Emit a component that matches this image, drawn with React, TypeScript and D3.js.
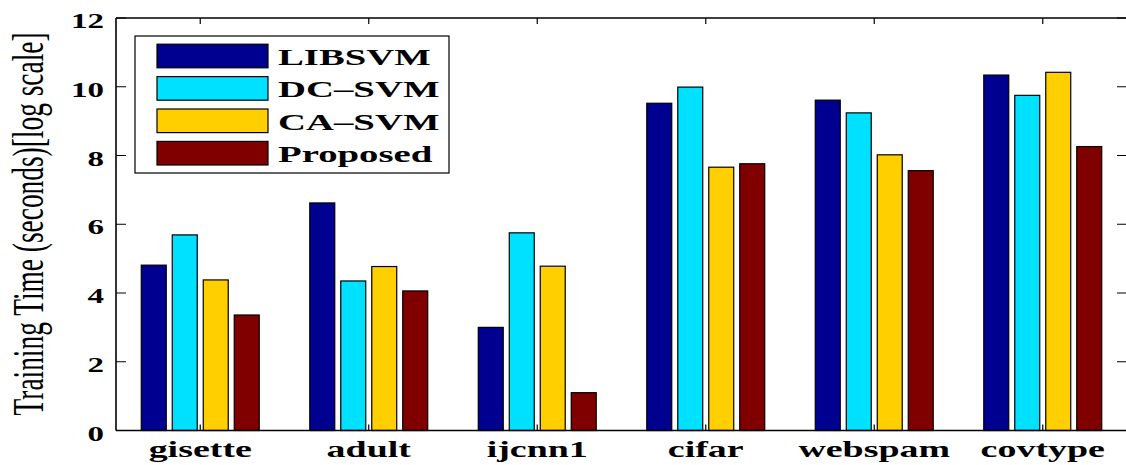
import React from "react";
import * as d3 from "d3";

const categories = ["gisette", "adult", "ijcnn1", "cifar", "webspam", "covtype"];
const seriesNames = ["LIBSVM", "DC–SVM", "CA–SVM", "Proposed"];
const libsvm = [4.81, 6.62, 3.0, 9.52, 9.61, 10.34];
const dcsvm = [5.69, 4.35, 5.75, 9.99, 9.24, 9.75];
const casvm = [4.38, 4.77, 4.78, 7.66, 8.02, 10.42];
const proposed = [3.36, 4.06, 1.1, 7.76, 7.56, 8.26];
const yTicks = [0, 2, 4, 6, 8, 10, 12];
const colors = ["#000090", "#00E0FF", "#FFCF00", "#800000"];

const W = 1126;
const H = 465;
const left = 116;
const right = 1127;
const top = 18;
const bottom = 430.5;
const SX = 1.65;
const FONT = "'Liberation Serif', 'Times New Roman', serif";

export default function App() {
  const series = [libsvm, dcsvm, casvm, proposed];
  const x0 = d3.scaleBand<string>().domain(categories).range([left, right]).padding(0);
  const bw = x0.bandwidth();
  const x1 = d3
    .scaleBand<string>()
    .domain(seriesNames)
    .range([0, bw * 0.7])
    .paddingInner(0.194)
    .paddingOuter(0);
  const y = d3.scaleLinear().domain([0, 12]).range([bottom, top]);

  const stretched = (x: number, yy: number, txt: string, size: number, anchor: string, bold = true, key?: string) => (
    <g key={key} transform={`translate(${x},${yy}) scale(${SX},1)`}>
      <text
        x={0}
        y={0}
        fontFamily={FONT}
        fontWeight={bold ? "bold" : "normal"}
        fontSize={size}
        textAnchor={anchor}
        fill="#000"
      >
        {txt}
      </text>
    </g>
  );

  const legX = 135, legY = 36, legW = 314, legH = 137;
  const rowCenters = [56, 88.4, 120.8, 153.2];

  return (
    <svg
      width={W}
      height={H}
      style={{ position: "absolute", left: 0, top: 0, background: "#fff" }}
    >
      <rect x={0} y={0} width={W} height={H} fill="#fff" />
      {/* ticks */}
      {yTicks.map((t) => (
        <g key={"yt" + t}>
          <line x1={left} x2={left + 10} y1={y(t)} y2={y(t)} stroke="#000" strokeWidth={1} />
          <line x1={right - 10} x2={right} y1={y(t)} y2={y(t)} stroke="#000" strokeWidth={1} />
        </g>
      ))}
      {categories.map((c) => {
        const cx = (x0(c) as number) + bw / 2;
        return (
          <g key={"xt" + c}>
            <line x1={cx} x2={cx} y1={top} y2={top + 6} stroke="#000" strokeWidth={1.2} />
            <line x1={cx} x2={cx} y1={bottom} y2={bottom - 6} stroke="#000" strokeWidth={1.2} />
          </g>
        );
      })}
      {/* bars */}
      {categories.map((c, ci) => (
        <g key={"g" + c} transform={`translate(${(x0(c) as number) + bw * 0.15},0)`}>
          {seriesNames.map((s, si) => (
            <rect
              key={s}
              x={x1(s) as number}
              y={y(series[si][ci])}
              width={x1.bandwidth()}
              height={y(0) - y(series[si][ci])}
              fill={colors[si]}
              stroke="#000"
              strokeWidth={1.2}
            />
          ))}
        </g>
      ))}
      {/* axes box */}
      <line x1={left} x2={left} y1={top} y2={bottom} stroke="#000" strokeWidth={1.6} />
      <line x1={left} x2={right} y1={bottom} y2={bottom} stroke="#000" strokeWidth={1.6} />
      <line x1={left} x2={right} y1={top} y2={top} stroke="#000" strokeWidth={1.6} />
      <line x1={right} x2={right} y1={top} y2={bottom} stroke="#000" strokeWidth={1.6} />
      {/* y tick labels */}
      {yTicks.map((t) => stretched(104, y(t) + 10, String(t), 20, "end", true, "yl" + t))}
      {/* x labels */}
      {categories.map((c) =>
        stretched((x0(c) as number) + bw / 2, 456.5, c, 23, "middle", true, "xl" + c)
      )}
      {/* y axis title */}
      <g transform={`translate(43,224) scale(1.66,1) rotate(-90)`}>
        <text
          x={0}
          y={0}
          fontFamily={FONT}
          fontSize={27}
          textAnchor="middle"
          textLength={383}
          lengthAdjust="spacingAndGlyphs"
          fill="#000"
        >
          Training Time (seconds)[log scale]
        </text>
      </g>
      {/* legend */}
      <rect x={legX} y={legY} width={legW} height={legH} fill="#fff" stroke="#000" strokeWidth={1.2} />
      {seriesNames.map((s, i) => (
        <g key={"lg" + s}>
          <rect
            x={157}
            y={rowCenters[i] - 11.8}
            width={111}
            height={23.6}
            fill={colors[i]}
            stroke="#000"
            strokeWidth={1.2}
          />
          {stretched(278, rowCenters[i] + 9, s, 23.5, "start", true)}
        </g>
      ))}
    </svg>
  );
}
